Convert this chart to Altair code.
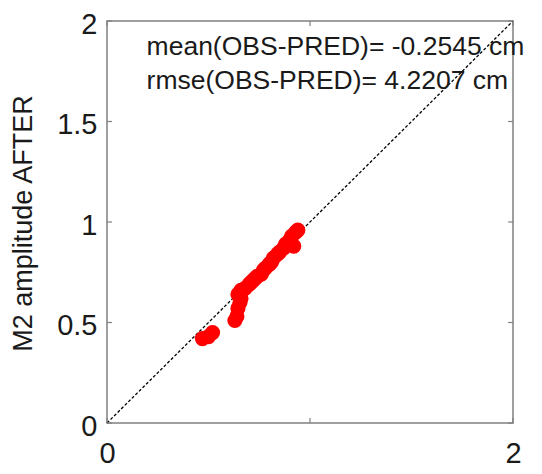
import altair as alt
import pandas as pd

obs_x = [0.47, 0.50, 0.52, 0.63, 0.64, 0.645, 0.655, 0.645, 0.66, 0.68, 0.70, 0.71,
         0.73, 0.74, 0.76, 0.77, 0.78, 0.80, 0.81, 0.82, 0.84, 0.85, 0.87, 0.88,
         0.90, 0.91, 0.93, 0.94, 0.92, 0.80, 0.72, 0.66]
obs_y = [0.42, 0.43, 0.45, 0.51, 0.53, 0.57, 0.60, 0.64, 0.66, 0.67, 0.69, 0.70,
         0.72, 0.73, 0.74, 0.76, 0.77, 0.79, 0.80, 0.82, 0.84, 0.85, 0.87, 0.89,
         0.91, 0.93, 0.95, 0.96, 0.88, 0.79, 0.71, 0.62]

diag = [0, 2]
x_ticks = [0, 1, 2]
y_ticks = [0, 0.5, 1, 1.5, 2]

ann_text = ["mean(OBS-PRED)= -0.2545 cm", "rmse(OBS-PRED)= 4.2207 cm"]
ann_x = [0.195, 0.195]
ann_y = [1.87, 1.70]

FONT = "Liberation Sans"
GRAY = "#808080"
TXT = "#1a1a1a"

pts = pd.DataFrame({"x": obs_x, "y": obs_y})
line_df = pd.DataFrame({"x": diag, "y": diag})
ann = pd.DataFrame({"x": ann_x, "y": ann_y, "t": ann_text})
xt = pd.DataFrame({"v": x_ticks})
yt = pd.DataFrame({"v": y_ticks})

xs = alt.Scale(domain=[0, 2], nice=False)
ys = alt.Scale(domain=[0, 2], nice=False)

W = 406
H = 402

xaxis = alt.Axis(values=x_ticks, format="d", grid=False, ticks=False, domain=False,
                 labelFontSize=29, labelFont=FONT, labelColor=TXT, labelPadding=16,
                 labelFlush=False, title=None)
yaxis = alt.Axis(values=y_ticks, grid=False, ticks=False, domain=False,
                 labelFontSize=29, labelFont=FONT, labelColor=TXT, labelPadding=10,
                 labelOffset=3, labelFlush=False,
                 labelExpr="datum.value == 0 ? '0' : (datum.value % 1 == 0 ? format(datum.value, 'd') : format(datum.value, '.1f'))",
                 title="M2 amplitude AFTER", titleFontSize=27, titleFont=FONT,
                 titleFontWeight="normal", titleColor=TXT, titleX=-84, titleY=202,
                 titleAngle=-90, titleAlign="center", titleBaseline="middle")

base_line = alt.Chart(line_df).mark_line(color="black", strokeDash=[3, 2], strokeWidth=1.3).encode(
    x=alt.X("x:Q", scale=xs, axis=xaxis),
    y=alt.Y("y:Q", scale=ys, axis=yaxis),
)

dots = alt.Chart(pts).mark_circle(color="#ff0000", opacity=1, size=230).encode(
    x=alt.X("x:Q", scale=xs),
    y=alt.Y("y:Q", scale=ys),
)

texts = alt.Chart(ann).mark_text(align="left", baseline="middle", fontSize=26.5, font=FONT,
                                 color=TXT).encode(
    x=alt.X("x:Q", scale=xs),
    y=alt.Y("y:Q", scale=ys),
    text="t:N",
)

tick_style = dict(color=GRAY, strokeWidth=1.2)
xt_bot = alt.Chart(xt).mark_rule(**tick_style).encode(
    x=alt.X("v:Q", scale=xs), y=alt.value(H), y2=alt.value(H - 5))
xt_top = alt.Chart(xt).mark_rule(**tick_style).encode(
    x=alt.X("v:Q", scale=xs), y=alt.value(0), y2=alt.value(5))
yt_left = alt.Chart(yt).mark_rule(**tick_style).encode(
    y=alt.Y("v:Q", scale=ys), x=alt.value(0), x2=alt.value(5))
yt_right = alt.Chart(yt).mark_rule(**tick_style).encode(
    y=alt.Y("v:Q", scale=ys), x=alt.value(W), x2=alt.value(W - 5))

chart = alt.layer(base_line, xt_bot, xt_top, yt_left, yt_right, dots, texts).properties(
    width=W, height=H,
    autosize=alt.AutoSizeParams(type="none"),
    padding={"left": 99, "top": 13, "right": 21, "bottom": 51},
    background="white",
).configure_view(stroke=GRAY, strokeWidth=1.5)

chart.save("out.html", embed_options={"renderer": "svg", "actions": False})
